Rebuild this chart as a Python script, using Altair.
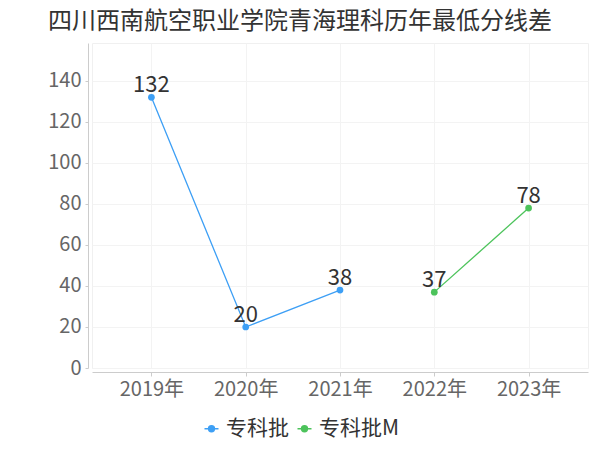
import altair as alt
import pandas as pd

years = ["2019年", "2020年", "2021年", "2022年", "2023年"]
series_a_years = ["2019年", "2020年", "2021年"]
series_a_vals = [132, 20, 38]
series_b_years = ["2022年", "2023年"]
series_b_vals = [37, 78]
series_names = ["专科批", "专科批M"]
colors = ["#3d9ff5", "#4cc35b"]
y_ticks = [0, 20, 40, 60, 80, 100, 120, 140]

rows = []
for y, v in zip(series_a_years, series_a_vals):
    rows.append({"year": y, "value": v, "series": series_names[0]})
for y, v in zip(series_b_years, series_b_vals):
    rows.append({"year": y, "value": v, "series": series_names[1]})
df = pd.DataFrame(rows)

FONT = "Noto Sans CJK SC"

x_enc = alt.X("year:N", sort=years,
              scale=alt.Scale(type="point", padding=0.63, domain=years),
              axis=alt.Axis(title=None, labelFontSize=20, labelColor="#666666",
                            labelFont=FONT, domainColor="#cccccc", tickColor="#cccccc",
                            tickSize=4, labelPadding=3, offset=4, grid=True,
                            gridColor="#f3f3f3", labelAngle=0))
y_enc = alt.Y("value:Q",
              scale=alt.Scale(domain=[0, 158.5], nice=False),
              axis=alt.Axis(title=None, values=y_ticks, labelFontSize=20,
                            labelColor="#666666", labelFont=FONT,
                            domainColor="#cccccc", tickColor="#cccccc",
                            tickSize=3, labelPadding=4, offset=4, grid=True,
                            gridColor="#f3f3f3"))

color_enc = alt.Color("series:N",
                      scale=alt.Scale(domain=series_names, range=colors),
                      legend=alt.Legend(title=None, orient="none", direction="horizontal",
                                        legendX=109, legendY=375,
                                        labelFontSize=21, labelColor="#333333",
                                        labelFont=FONT, labelOffset=4,
                                        columnPadding=5, symbolSize=196,
                                        symbolType="M-1,0L1,0M-0.42,0A0.42,0.42 0 1,1 0.42,0A0.42,0.42 0 1,1 -0.42,0Z",
                                        symbolStrokeWidth=1.5))

base = alt.Chart(df)

lines = base.mark_line(strokeWidth=1.3).encode(x=x_enc, y=y_enc, color=color_enc, detail="series:N")
points = base.mark_circle(size=45, opacity=1).encode(x=x_enc, y=y_enc, color=color_enc)
labels = base.mark_text(fontSize=22, font=FONT, color="#333333", baseline="alphabetic",
                        dy=-5).encode(x=x_enc, y=y_enc, text="value:Q")

chart = alt.layer(lines, points, labels).properties(
    width=496, height=325,
    autosize=alt.AutoSizeParams(type="none"),
    padding={"left": 84, "top": 35, "right": 4, "bottom": 74},
    title=alt.TitleParams("四川西南航空职业学院青海理科历年最低分线差", fontSize=24,
                          font=FONT, color="#333333", fontWeight="normal",
                          anchor="middle", dx=-40, offset=9),
).configure_view(stroke="#f0f0f0")

chart.save("out.html", embed_options={"renderer": "svg", "actions": False})
